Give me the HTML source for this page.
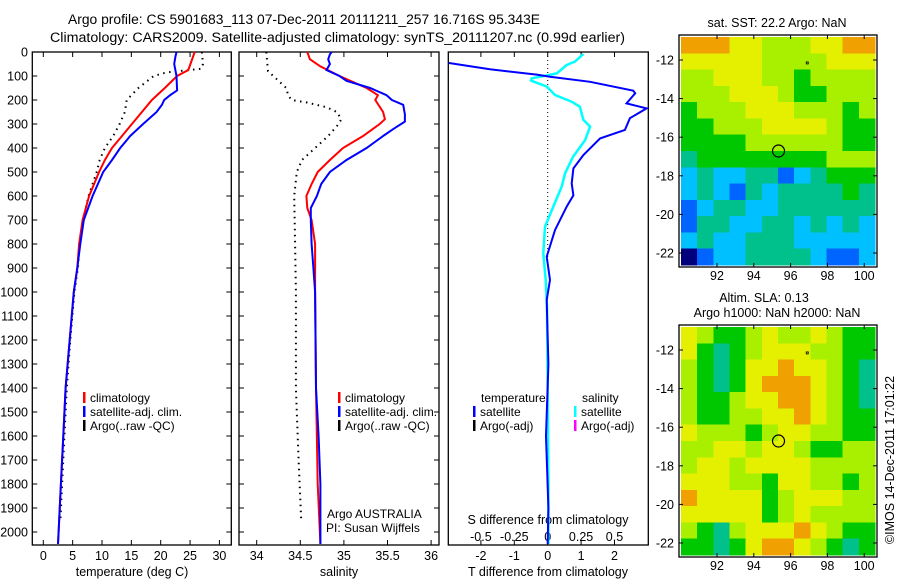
<!DOCTYPE html>
<html><head><meta charset="utf-8"><style>
html,body{margin:0;padding:0;background:#fff}
svg{display:block;font-family:"Liberation Sans",sans-serif}
</style></head><body>
<svg id="fig" width="900" height="580" viewBox="0 0 900 580" xmlns="http://www.w3.org/2000/svg">
<text x="68" y="24" font-size="13.5" textLength="472" lengthAdjust="spacingAndGlyphs">Argo profile: CS 5901683_113 07-Dec-2011 20111211_257 16.716S 95.343E</text>
<text x="50" y="42" font-size="13.5" textLength="575" lengthAdjust="spacingAndGlyphs">Climatology: CARS2009. Satellite-adjusted climatology: synTS_20111207.nc (0.99d earlier)</text>
<g id="layer"></g>
</svg>
<script>
// ---------- data ----------
const depthTicks=[0,100,200,300,400,500,600,700,800,900,1000,1100,1200,1300,1400,1500,1600,1700,1800,1900,2000];
const tempTicks=[0,5,10,15,20,25,30];
const salTicks=[34,34.5,35,35.5,36];
const salTickLabels=["34","34.5","35","35.5","36"];
const tdiffTicks=[-2,-1,0,1,2];
const sdiffTicks=[-0.5,-0.25,0,0.25,0.5];
const sdiffTickLabels=["-0.5","-0.25","0","0.25","0.5"];

const climTempDepth=[0,75,100,150,200,250,300,350,400,450,500,600,700,800,900,1000,1200,1400,1600,1800,2000,2050];
const climTemp=[25.8,24.7,22.8,20.7,18.5,16.8,15.1,13.4,11.7,10.5,9.5,7.8,6.7,6.1,5.8,5.2,4.5,3.8,3.4,3.0,2.6,2.5];
const satTempDepth=[0,20,50,100,160,180,200,220,250,300,350,400,450,500,600,700,800,900,1000,1200,1400,1600,1800,2000,2050];
const satTemp=[22.7,22.5,22.3,22.7,22.8,21.6,20.6,20.2,19.3,17.0,14.8,13.1,11.7,10.2,8.4,6.9,6.3,5.8,5.2,4.5,3.8,3.4,3.0,2.6,2.5];
const argoTempDepth=[0,50,70,85,100,150,200,250,300,350,400,450,500,600,700,800,900,1000,1200,1400,1600,1800,1960];
const argoTemp=[27.0,27.2,26.9,21.0,18.8,16.2,14.2,13.9,13.0,11.9,10.5,9.6,9.1,7.7,6.8,6.2,5.9,5.3,4.6,4.0,3.6,3.2,2.9];

const climSalDepth=[0,30,60,100,150,180,200,250,280,300,350,400,450,500,550,600,650,700,800,1000,1400,1800,2050];
const climSal=[34.58,34.61,34.73,34.95,35.26,35.39,35.36,35.45,35.47,35.41,35.22,34.99,34.84,34.70,34.63,34.57,34.58,34.63,34.67,34.67,34.68,34.70,34.73];
const satSalDepth=[0,10,30,50,75,100,120,150,180,200,220,260,290,320,350,400,450,500,550,600,650,700,800,900,1000,1400,1600,1800,2050];
const satSal=[34.86,34.84,34.82,34.84,34.80,34.95,35.03,35.30,35.49,35.55,35.68,35.70,35.70,35.57,35.45,35.26,35.03,34.84,34.74,34.69,34.62,34.62,34.63,34.65,34.67,34.68,34.71,34.73,34.73];
const argoSalDepth=[0,80,100,150,180,200,210,230,250,280,300,350,400,450,500,600,800,1000,1200,1400,1700,1950];
const argoSal=[34.11,34.13,34.19,34.34,34.36,34.40,34.57,34.80,34.92,34.97,34.94,34.82,34.67,34.52,34.46,34.43,34.44,34.45,34.45,34.45,34.48,34.51];

const tDiffDepth=[46,72,94,103,124,161,172,214,235,276,325,360,429,485,548,597,644,742,853,950,1033,1300,1600,1900,2050];
const tDiff=[-2.98,-1.73,-0.33,0.07,1.27,2.56,2.62,2.36,2.96,2.46,2.31,1.57,1.07,0.77,0.72,0.77,0.57,0.22,-0.03,0.07,-0.03,0.02,-0.05,0.02,0.0];
const sDiffDepth=[8,40,54,89,110,119,144,179,207,228,283,311,367,436,505,561,644,728,839,950,1061,1400,1800,2050];
const sDiff=[0.267,0.204,0.142,0.067,-0.12,-0.125,-0.007,0.055,0.18,0.24,0.267,0.317,0.28,0.19,0.13,0.105,0.042,-0.02,-0.033,-0.015,-0.005,0.0,0.005,0.005];

const mapLonTicks=[92,94,96,98,100];
const mapLatTicks=[-12,-14,-16,-18,-20,-22];
const argoLon=95.343, argoLat=-16.716;
const sstGrid=[
[7,7,7,6,6,5,5,5,6,6,7,7],[6,6,6,6,6,5,5,5,5,6,6,6],[5,5,6,6,6,5,5,4,5,5,5,5],
[5,5,5,6,6,6,5,4,4,5,5,5],[4,5,5,5,6,6,6,5,5,5,4,5],[4,4,5,5,5,6,6,6,6,5,4,4],
[4,4,4,4,5,5,5,5,5,5,4,4],[3,4,4,4,4,4,4,4,4,5,5,5],[2,3,2,2,3,3,1,2,3,4,4,4],
[2,3,2,1,3,2,3,3,3,3,4,3],[1,2,3,3,2,2,3,3,3,3,3,3],[1,3,3,2,2,3,3,2,3,2,3,2],
[2,3,2,2,3,3,3,2,2,2,2,2],[0,1,2,2,3,3,3,3,2,1,1,2]];
const slaGrid=[
[6,5,4,4,5,6,5,5,6,5,4,4],[6,4,3,4,5,6,6,6,5,5,4,4],[5,4,3,4,6,6,7,6,6,5,4,3],
[5,4,3,4,6,7,7,7,6,5,4,3],[5,4,4,5,6,6,7,7,6,5,4,3],[5,4,4,5,5,6,6,7,6,5,4,4],
[6,5,5,5,4,5,6,6,5,5,4,4],[5,5,6,6,5,6,6,5,4,4,5,5],[5,6,6,5,6,6,6,6,5,5,5,5],
[6,6,6,5,5,4,6,6,5,5,4,5],[7,6,6,6,6,4,5,6,6,6,5,5],[6,6,6,6,6,4,5,6,5,5,5,5],
[5,4,3,5,6,6,6,7,6,5,4,4],[4,4,3,4,6,7,7,6,5,4,3,4]];
const palette=["#00007f","#0064ff","#00c0ff","#00c08c","#00c800","#a8f000","#e4f000","#f0a000"];

// ---------- helpers ----------
const NS="http://www.w3.org/2000/svg";
const L=document.getElementById('layer');
function mk(tag,attrs,parent,txt){const e=document.createElementNS(NS,tag);for(const k in attrs)e.setAttribute(k,attrs[k]);if(txt!==undefined)e.textContent=txt;(parent||L).appendChild(e);return e;}
const top0=52, bot=545;
const yD=d=>top0+d*0.24;
const xT=t=>43.3+5.87*t;
const xS=s=>256.7+87.2*(s-34);
const xTd=t=>547.7+33.4*t;
const xSd=s=>547.7+133.6*s;
function clampX(x,a,b){return Math.max(a,Math.min(b,x));}
function line(depths,vals,fx,color,w,name,dash,lo,hi){
  const pts=depths.map((d,i)=>clampX(fx(vals[i]),lo,hi).toFixed(1)+","+yD(d).toFixed(1)).join(" ");
  const p=mk('polyline',{points:pts,fill:'none',stroke:color,'stroke-width':w});
  if(dash)p.setAttribute('stroke-dasharray',dash);
  
  
}
function frame(x0,x1,name){
  const r=mk('rect',{x:x0,y:top0,width:x1-x0,height:bot-top0,fill:'none',stroke:'#000','stroke-width':1.3});
  
  
}
function txt(x,y,s,size,anchor,name){
  const t=mk('text',{x:x,y:y,'font-size':size,'text-anchor':anchor||'start'},L,s);
  
  
  return t;
}
function depthTicksFor(x0,x1,labels){
  depthTicks.forEach(d=>{
    mk('line',{x1:x0,y1:yD(d),x2:x0+5,y2:yD(d),stroke:'#000'});
    mk('line',{x1:x1,y1:yD(d),x2:x1-5,y2:yD(d),stroke:'#000'});
    if(labels){txt(28,yD(d)+4.5,String(d),12.5,'end','depth-tick-label');}
  });
}
function xTicks(vals,labels,fx,ly,top){
  vals.forEach((v,i)=>{
    const x=fx(v);
    mk('line',{x1:x,y1:bot,x2:x,y2:bot-5,stroke:'#000'});
    if(top)mk('line',{x1:x,y1:top0,x2:x,y2:top0+5,stroke:'#000'});
    if(labels)txt(x,ly,labels[i],12.5,'middle','x-tick-label');
  });
}
function legendEntry(xm,y,color,label){
  const r=mk('rect',{x:xm,y:y-10,width:2.5,height:11,fill:color});
  
  
  txt(xm+7,y,label,12,'start','legend-entry');
}

// ---------- panel 1: temperature ----------
frame(32.3,231.3,'temperature-panel');
depthTicksFor(32.3,231.3,true);
xTicks(tempTicks,tempTicks.map(String),xT,560,true);
txt(132,576,'temperature (deg C)',12.5,'middle','temperature-axis-title');
line(argoTempDepth,argoTemp,xT,'#000',2,'argo-temperature-line','1.5,4.5',33,231);
line(climTempDepth,climTemp,xT,'#f00',2,'climatology-temperature-line',null,33,231);
line(satTempDepth,satTemp,xT,'#00f',2,'satellite-temperature-line',null,33,231);
legendEntry(83,402,'#f00','climatology');
legendEntry(83,416,'#00f','satellite-adj. clim.');
legendEntry(83,430,'#000','Argo(..raw -QC)');

// ---------- panel 2: salinity ----------
frame(239,439,'salinity-panel');
depthTicksFor(239,439,false);
xTicks(salTicks,salTickLabels,xS,560,true);
txt(339,576,'salinity',12.5,'middle','salinity-axis-title');
line(argoSalDepth,argoSal,xS,'#000',2,'argo-salinity-line','1.5,4.5',240,438);
line(climSalDepth,climSal,xS,'#f00',2,'climatology-salinity-line',null,240,438);
line(satSalDepth,satSal,xS,'#00f',2,'satellite-salinity-line',null,240,438);
legendEntry(338,402,'#f00','climatology');
legendEntry(338,416,'#00f','satellite-adj. clim.');
legendEntry(338,430,'#000','Argo(..raw -QC)');
txt(327,518,'Argo AUSTRALIA',12,'start','argo-australia-label');
txt(326,532,'PI: Susan Wijffels',12,'start','pi-label');

// ---------- panel 3: differences ----------
frame(448.3,648.3,'difference-panel');
xTicks(tdiffTicks,tdiffTicks.map(String),xTd,560,true);
sdiffTicks.forEach((v,i)=>{txt(xSd(v),541,sdiffTickLabels[i],12.5,'middle','s-diff-tick-label');});
txt(548,524,'S difference from climatology',12.5,'middle','s-diff-axis-title');
txt(548,576,'T difference from climatology',12.5,'middle','t-diff-axis-title');
mk('line',{x1:xTd(0),y1:top0,x2:xTd(0),y2:yD(870),stroke:'#000','stroke-width':1,'stroke-dasharray':'1,3'});
line(sDiffDepth,sDiff,xSd,'#0ff',2.5,'salinity-difference-line',null,449,647);
line(tDiffDepth,tDiff,xTd,'#00f',2,'temperature-difference-line',null,449,647);
txt(481,402,'temperature',12,'start','legend-temperature-heading');
txt(582,402,'salinity',12,'start','legend-salinity-heading');
legendEntry(473,416,'#00f','satellite');
legendEntry(473,430,'#000','Argo(-adj)');
legendEntry(574,416,'#0ff','satellite');
legendEntry(574,430,'#f0f','Argo(-adj)');

// ---------- maps ----------
function map(y0,y1,latY12,grid,name){
  const x0=679,x1=877;
  const g=mk('g',{'shape-rendering':'crispEdges'});
  
  
  const rows=grid.length,cols=grid[0].length;
  const cw=(x1-x0-4)/cols,ch=(y1-y0-4)/rows;
  grid.forEach((row,r)=>row.forEach((v,c)=>{
    const cell=mk('rect',{x:(x0+2+c*cw).toFixed(1),y:(y0+2+r*ch).toFixed(1),width:(cw+0.6).toFixed(1),height:(ch+0.6).toFixed(1),fill:palette[v]},g);
    
    
  }));
  const fr=mk('rect',{x:x0,y:y0,width:x1-x0,height:y1-y0,fill:'none',stroke:'#000','stroke-width':1.3});
  
  
  const lonX=lo=>717+18.4*(lo-92);
  const latY=la=>latY12+19.3*(-12-la);
  mapLonTicks.forEach(lo=>{
    mk('line',{x1:lonX(lo),y1:y0,x2:lonX(lo),y2:y0+4,stroke:'#000'});
    mk('line',{x1:lonX(lo),y1:y1,x2:lonX(lo),y2:y1-4,stroke:'#000'});
    txt(lonX(lo),y1+13,String(lo),12.5,'middle','map-lon-label');
  });
  mapLatTicks.forEach(la=>{
    mk('line',{x1:x0,y1:latY(la),x2:x0+4,y2:latY(la),stroke:'#000'});
    mk('line',{x1:x1,y1:latY(la),x2:x1-4,y2:latY(la),stroke:'#000'});
    txt(674,latY(la)+4.5,String(la),12.5,'end','map-lat-label');
  });
  const c=mk('circle',{cx:lonX(argoLon),cy:latY(argoLat),r:6,fill:'none',stroke:'#000','stroke-width':1.2});
  
  
  mk('rect',{x:lonX(96.85),y:latY(-12.1),width:2,height:2,fill:'none',stroke:'#000','stroke-width':0.8});
}
map(35,267,60,sstGrid,'sst-map');
txt(777,27,'sat. SST: 22.2  Argo: NaN',12.5,'middle','sst-map-title');
map(325,557,350,slaGrid,'sla-map');
txt(764,302,'Altim. SLA: 0.13',12.5,'middle','sla-map-title');
txt(777,317,'Argo h1000: NaN h2000: NaN',12.5,'middle','sla-map-subtitle');
const cr=txt(0,0,'©IMOS 14-Dec-2011 17:01:22',12.5,'middle','imos-timestamp');
cr.setAttribute('transform','translate(894,460) rotate(-90)');
</script>
</body></html>
